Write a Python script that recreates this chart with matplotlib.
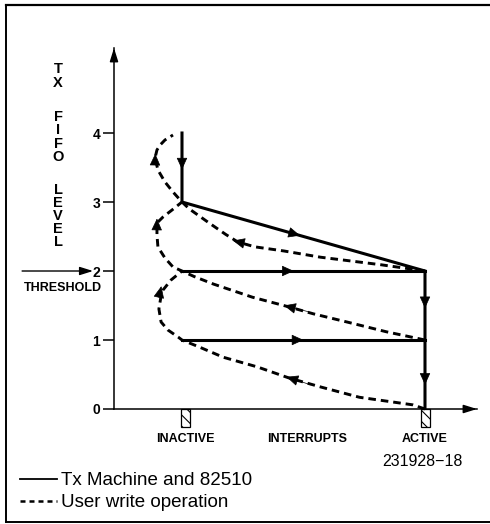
import matplotlib
matplotlib.use("Agg")
import matplotlib.pyplot as plt
from matplotlib.lines import Line2D
from matplotlib.patches import Rectangle

plt.rcParams['font.family'] = ['Liberation Sans', 'DejaVu Sans']
plt.rcParams['hatch.linewidth'] = 0.8

# FIFO levels and states
levels = [0, 1, 2, 3, 4]
state_names = ["INACTIVE", "INTERRUPTS", "ACTIVE"]
state_x = [0.012, 0.514, 1.0]

# Tx machine (solid) path
tx_x = [0, 0, 1, 1]
tx_y = [4, 3, 2, 0]
tx_h_levels = [2, 1]

# user write (dashed) paths: return sweep + climb at INACTIVE
write_paths = [
    ([1.0, 0.95, 0.73, 0.57, 0.44, 0.31, 0.17, 0.07, 0.0,
      -0.016, -0.058, -0.086, -0.095, -0.087, -0.078, -0.045, 0.0],
     [0.0, 0.06, 0.17, 0.32, 0.45, 0.61, 0.75, 0.90, 1.0,
      1.043, 1.145, 1.261, 1.45, 1.62, 1.725, 1.87, 2.0]),
    ([1.0, 0.84, 0.68, 0.54, 0.44, 0.29, 0.13, 0.05, 0.0,
      -0.037, -0.07, -0.099, -0.103, -0.103, -0.078, -0.041, 0.0],
     [1.0, 1.12, 1.26, 1.38, 1.48, 1.62, 1.81, 1.92, 2.0,
      2.058, 2.188, 2.348, 2.522, 2.696, 2.783, 2.884, 3.0]),
    ([1.0, 0.82, 0.57, 0.42, 0.30, 0.23, 0.18, 0.11, 0.03, 0.0,
      -0.037, -0.07, -0.099, -0.111, -0.103, -0.09, -0.07, -0.037],
     [2.0, 2.09, 2.2, 2.29, 2.35, 2.42, 2.53, 2.70, 2.90, 3.0,
      3.145, 3.29, 3.464, 3.638, 3.754, 3.826, 3.899, 3.971]),
]

# direction arrows: (tip, tail)
solid_arrows = [((0, 3.47), (0, 3.6)), ((0.486, 2.514), (0.40, 2.60)),
                ((0.46, 2), (0.38, 2)), ((0.50, 1), (0.42, 1)),
                ((1, 1.46), (1, 1.6)), ((1, 0.35), (1, 0.5))]
dashed_arrows = [((-0.11, 3.70), (-0.111, 3.55)), ((-0.103, 2.76), (-0.104, 2.6)),
                 ((-0.085, 1.78), (-0.095, 1.62)), ((0.21, 2.44), (0.28, 2.38)),
                 ((0.42, 1.50), (0.52, 1.41)), ((0.43, 0.465), (0.53, 0.35))]

fig = plt.figure(figsize=(4.9, 5.24), dpi=100)
ax = fig.add_axes([114 / 490, 115 / 524, 363 / 490, 361 / 524])
ax.set_xlim(-0.2798, 1.214)
ax.set_ylim(0, 5.232)
for s in ['top', 'right']:
    ax.spines[s].set_visible(False)
for s in ['left', 'bottom']:
    ax.spines[s].set_linewidth(1.1)
ax.set_xticks([])
ax.set_yticks(levels)
ax.set_yticklabels([str(v) for v in levels], fontsize=10, fontweight='bold')
ax.tick_params(axis='y', length=8, width=1.1, pad=2)

# axis arrowheads
ax.annotate('', xy=(0, 1), xycoords='axes fraction', xytext=(0, 0.97),
            arrowprops=dict(arrowstyle='-|>,head_length=0.8,head_width=0.25',
                            color='black', lw=1.1, shrinkA=0, shrinkB=0),
            annotation_clip=False)
ax.annotate('', xy=(1, 0), xycoords='axes fraction', xytext=(0.97, 0),
            arrowprops=dict(arrowstyle='-|>,head_length=0.8,head_width=0.25',
                            color='black', lw=1.1, shrinkA=0, shrinkB=0),
            annotation_clip=False)

# user write paths
for xs, ys in write_paths:
    ax.plot(xs, ys, color='black', lw=2.1, dashes=(2.6, 1.7),
            solid_capstyle='butt', dash_capstyle='butt', clip_on=False)

# Tx machine
ax.plot(tx_x, tx_y, color='black', lw=2.2, solid_joinstyle='miter')
for lv in tx_h_levels:
    ax.plot([0, 1], [lv, lv], color='black', lw=2.2)

for tip, tail in solid_arrows + dashed_arrows:
    ax.annotate('', xy=tip, xytext=tail,
                arrowprops=dict(arrowstyle='-|>,head_length=0.42,head_width=0.19',
                                mutation_scale=18, color='black', lw=0.5,
                                shrinkA=0, shrinkB=0))

# state markers and labels
for x in [state_x[0], state_x[2]]:
    ax.add_patch(Rectangle((x - 0.018, -0.26), 0.037, 0.26, facecolor='white',
                           edgecolor='black', lw=0.9, hatch='\\\\\\', clip_on=False))
for name, x in zip(state_names, state_x):
    ax.text(x, -0.435, name, ha='center', va='center', fontsize=9,
            fontweight='bold', clip_on=False)
ax.text(0.99, -0.754, "231928\u221218", ha='center', va='center',
        fontsize=11.5, clip_on=False)

# threshold
ax.annotate('', xy=(-0.366, 2), xytext=(-0.658, 2),
            arrowprops=dict(arrowstyle='-|>,head_length=0.8,head_width=0.25',
                            color='black', lw=1.0, shrinkA=0, shrinkB=0),
            annotation_clip=False)
ax.text(-0.49, 1.754, "THRESHOLD", ha='center', va='center', fontsize=9,
        fontweight='bold', clip_on=False)

# vertical y label
for txt, yc in [("T\nX", 76), ("F\nI\nF\nO", 137), ("L\nE\nV\nE\nL", 216)]:
    fig.text(58 / 490, 1 - yc / 524, txt, ha='center', va='center',
             fontsize=10.5, fontweight='bold', linespacing=0.92)

# legend
handles = [Line2D([], [], color='black', lw=1.3),
           Line2D([], [], color='black', lw=1.8, dashes=(2, 1.6))]
fig.legend(handles, ["Tx Machine and 82510", "User write operation"],
           loc='upper left', bbox_to_anchor=(20 / 490, 1 - 472 / 524),
           frameon=False, fontsize=13.5, handlelength=1.97, handletextpad=0.2,
           labelspacing=0.27, borderpad=0, borderaxespad=0)

# frame
fig.add_artist(Line2D([5.5 / 490, 1], [1 - 5 / 524, 1 - 5 / 524], color='black', lw=1.6))
fig.add_artist(Line2D([5.5 / 490, 5.5 / 490], [1 - 5 / 524, 1 - 522 / 524], color='black', lw=1.4))
fig.add_artist(Line2D([5.5 / 490, 1], [1 - 522 / 524, 1 - 522 / 524], color='black', lw=1.4))

fig.savefig("out.png", dpi=100)
